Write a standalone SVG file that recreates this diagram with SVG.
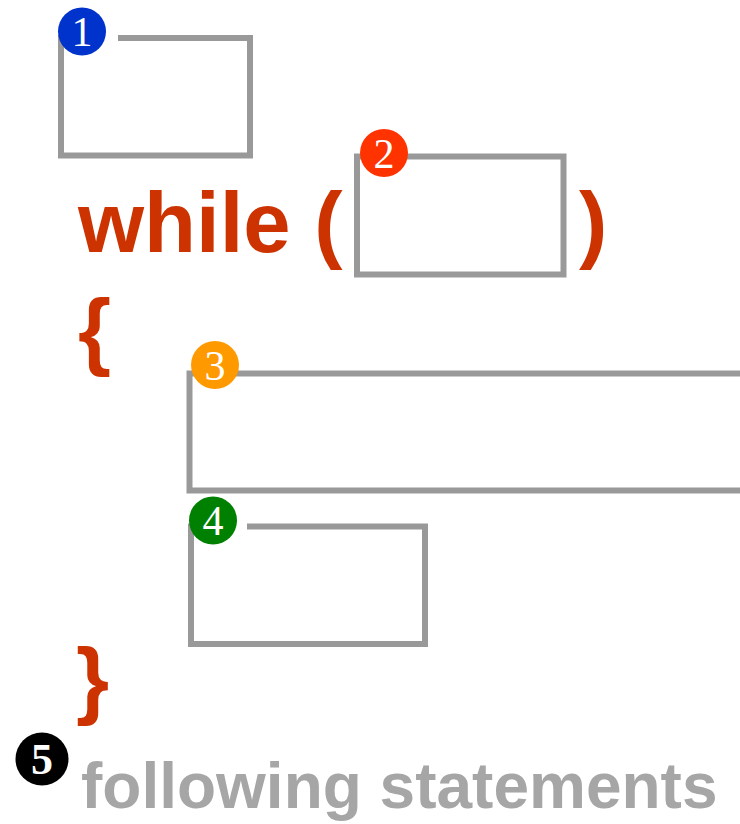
<svg xmlns="http://www.w3.org/2000/svg" width="740" height="824" viewBox="0 0 740 824">
<style>
.box{fill:none;stroke:#999999;stroke-width:6}
.kw{font-family:"Liberation Sans",Arial,sans-serif;font-weight:bold;font-size:85px;fill:#CC3300}
.num{font-family:"Liberation Serif","Times New Roman",serif;font-size:42px;fill:#FFFFFF;text-anchor:middle}
.mask{fill:#FFFFFF}
.follow{font-family:"Liberation Sans",Arial,sans-serif;font-weight:bold;font-size:64px;fill:#A6A6A6}
</style>
<rect width="740" height="824" fill="#FFFFFF"/>
<g id="code">
<text class="kw" x="78" y="252">while (</text>
<text class="kw" x="579" y="252">)</text>
<text class="kw" x="78" y="359">{</text>
<text class="kw" x="76" y="708">}</text>
</g>
<g id="node1">
<rect class="box" x="61" y="38" width="189" height="117.5"/>
<rect class="mask" x="82" y="33" width="36" height="10"/>
<circle cx="82" cy="31.5" r="24" fill="#0033CC"/>
<text class="num" x="82" y="46">1</text>
</g>
<g id="node2">
<rect class="box" x="357" y="156.5" width="206.5" height="118"/>
<circle cx="384" cy="153" r="24" fill="#FF3300"/>
<text class="num" x="384" y="167.5">2</text>
</g>
<g id="node3">
<rect class="box" x="189.5" y="373.5" width="600" height="117"/>
<circle cx="215" cy="365" r="24" fill="#FF9900"/>
<text class="num" x="215" y="379.5">3</text>
</g>
<g id="node4">
<rect class="box" x="191" y="526.5" width="234" height="117.5"/>
<rect class="mask" x="213" y="521" width="34" height="11"/>
<circle cx="213" cy="520.5" r="24" fill="#008000"/>
<text class="num" x="213" y="535">4</text>
</g>
<g id="node5">
<circle cx="42" cy="759" r="26.5" fill="#000000"/>
<text class="num" x="42" y="774" style="font-weight:bold;font-size:44px">5</text>
<text class="follow" x="81" y="808">following statements</text>
</g>
</svg>
